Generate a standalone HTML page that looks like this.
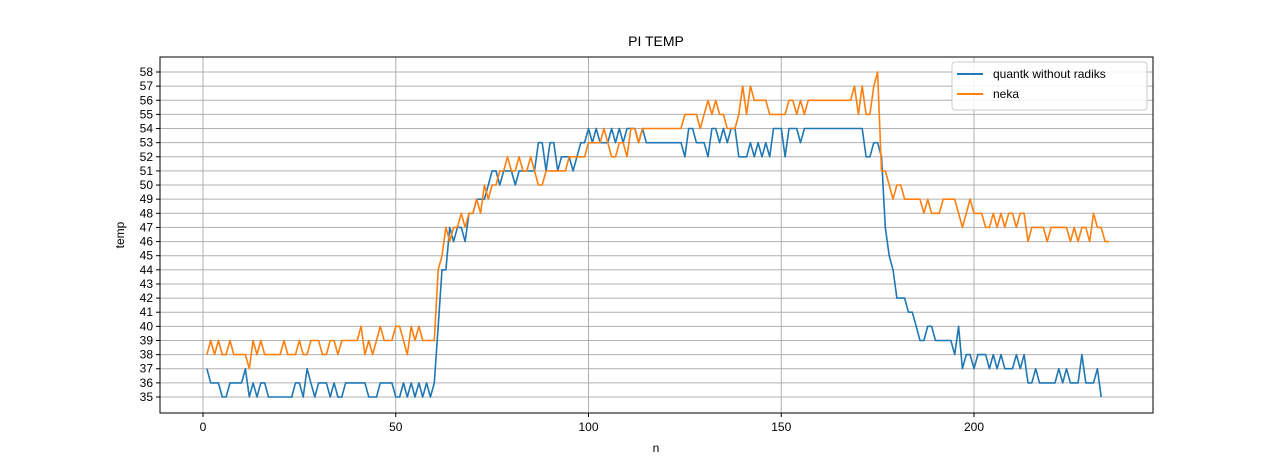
<!DOCTYPE html>
<html><head><meta charset="utf-8"><style>
body{margin:0;background:#fff;}
svg{display:block;font-family:"Liberation Sans","DejaVu Sans",sans-serif;}
</style></head><body>
<svg id="chart" width="1280" height="465" viewBox="0 0 1280 465" xmlns="http://www.w3.org/2000/svg">
<rect width="1280" height="465" fill="#fff"/>
<g id="grid"></g>
<g id="series"></g>
<rect x="160" y="57" width="993" height="356" fill="none" stroke="#000" stroke-width="1"/>
<g id="ticks"></g>
<text x="656" y="46" text-anchor="middle" font-size="14">PI TEMP</text>
<text x="656" y="452" text-anchor="middle" font-size="12">n</text>
<text transform="translate(124,235) rotate(-90)" text-anchor="middle" font-size="12">temp</text>
<g>
<rect x="952" y="62" width="195" height="48" fill="#fff" fill-opacity="0.85" stroke="#ccc" rx="3"/>
<line x1="957" y1="74" x2="983" y2="74" stroke="#1f77b4" stroke-width="2"/>
<text x="993" y="78" font-size="12">quantk without radiks</text>
<line x1="957" y1="94" x2="983" y2="94" stroke="#ff7f0e" stroke-width="2"/>
<text x="993" y="98" font-size="12">neka</text>
</g>
</svg>
<script>
const xTicks=[0,50,100,150,200];
const yTicks=[35,36,37,38,39,40,41,42,43,44,45,46,47,48,49,50,51,52,53,54,55,56,57,58];
const quantk=[37,36,36,36,35,35,36,36,36,36,37,35,36,35,36,36,35,35,35,35,35,35,35,36,36,35,37,36,35,36,36,36,35,36,35,35,36,36,36,36,36,36,35,35,35,36,36,36,36,35,35,36,35,36,35,36,35,36,35,36,40,44,44,47,46,47,47,46,48,48,49,49,49,50,51,51,50,51,51,51,50,51,51,51,51,51,53,53,51,53,53,51,52,52,52,51,52,53,53,54,53,54,53,53,53,54,53,54,53,54,54,54,53,54,53,53,53,53,53,53,53,53,53,53,52,54,54,53,53,53,52,54,54,53,54,53,54,54,52,52,52,53,52,53,52,53,52,54,54,54,52,54,54,54,53,54,54,54,54,54,54,54,54,54,54,54,54,54,54,54,54,52,52,53,53,52,47,45,44,42,42,42,41,41,40,39,39,40,40,39,39,39,39,39,38,40,37,38,38,37,38,38,38,37,38,37,38,37,37,37,38,37,38,36,36,37,36,36,36,36,36,37,36,37,36,36,36,38,36,36,36,37,35];
const neka=[38,39,38,39,38,38,39,38,38,38,38,37,39,38,39,38,38,38,38,38,39,38,38,38,39,38,38,39,39,39,38,38,39,39,38,39,39,39,39,39,40,38,39,38,39,40,39,39,39,40,40,39,38,40,39,40,39,39,39,39,44,45,47,46,47,47,48,47,48,48,49,48,50,49,50,50,51,51,52,51,51,52,51,51,52,51,50,50,51,51,51,51,51,51,52,52,52,52,52,53,53,53,53,54,53,52,52,53,53,52,54,54,53,54,54,54,54,54,54,54,54,54,54,54,55,55,55,55,54,55,56,55,56,55,55,54,54,54,55,57,55,57,56,56,56,56,55,55,55,55,55,56,56,55,56,55,56,56,56,56,56,56,56,56,56,56,56,56,57,55,57,55,55,57,58,51,51,50,49,50,50,49,49,49,49,49,48,49,48,48,48,49,49,49,49,48,47,48,49,48,48,48,47,47,48,47,48,47,48,48,47,48,48,46,47,47,47,47,46,47,47,47,47,47,46,47,46,47,47,46,48,47,47,46,46];
const X0=160,X1=1153,Y0=57,Y1=413;
function xs(v){return 203+(v-0)*(974-203)/200;}
function ys(v){return 397-(v-35)*(397-72)/23;}
const NS="http://www.w3.org/2000/svg";
const grid=document.getElementById('grid'),ticks=document.getElementById('ticks'),ser=document.getElementById('series');
function mk(tag,attrs,parent){const e=document.createElementNS(NS,tag);for(const k in attrs)e.setAttribute(k,attrs[k]);parent.appendChild(e);return e;}
xTicks.forEach(t=>{
  const g=mk('line',{x1:xs(t),x2:xs(t),y1:Y0,y2:Y1,stroke:'#b0b0b0','stroke-width':1},grid);
  
  
  const tk=mk('line',{x1:xs(t),x2:xs(t),y1:Y1,y2:Y1+4,stroke:'#000'},ticks);
  
  
  const tx=mk('text',{x:xs(t),y:Y1+18,'text-anchor':'middle','font-size':12},ticks);
  
  
  tx.textContent=t;
});
yTicks.forEach(t=>{
  const g=mk('line',{x1:X0,x2:X1,y1:ys(t),y2:ys(t),stroke:'#b0b0b0','stroke-width':1},grid);
  
  
  const tk=mk('line',{x1:X0-4,x2:X0,y1:ys(t),y2:ys(t),stroke:'#000'},ticks);
  
  
  const tx=mk('text',{x:X0-7,y:ys(t)+4,'text-anchor':'end','font-size':12},ticks);
  
  
  tx.textContent=t;
});
function line(arr,color,name){
  const pts=arr.map((v,i)=>xs(i+1).toFixed(1)+','+ys(v).toFixed(1)).join(' ');
  const p=mk('polyline',{points:pts,fill:'none',stroke:color,'stroke-width':1.6,'stroke-linejoin':'round'},ser);
  
  
}
line(quantk,'#1f77b4','quantk-line');
line(neka,'#ff7f0e','neka-line');
</script>
</body></html>
